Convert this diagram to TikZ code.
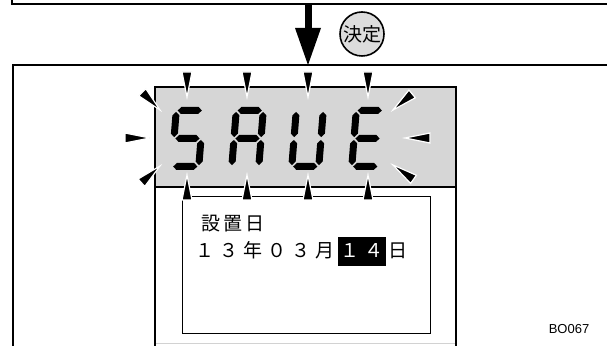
\documentclass[tikz,border=0pt]{standalone}
\usepackage{fontspec}
\newfontfamily\jpfont{Noto Sans CJK JP}
\newfontfamily\codefont{Liberation Sans}
\usetikzlibrary{arrows.meta}

\definecolor{lcdgray}{HTML}{D6D6D6}
\definecolor{keygray}{HTML}{DCDCDC}

% seven segment pieces (local units, t = 7)
\newcommand{\hseg}[3]{\fill (#1+1.4,#3) -- (#1+4.9,#3+3.5) -- (#2-4.9,#3+3.5) -- (#2-1.4,#3) -- (#2-4.9,#3-3.5) -- (#1+4.9,#3-3.5) -- cycle;}
\newcommand{\vseg}[3]{\fill (#1,#2+1.4) -- (#1+3.5,#2+4.9) -- (#1+3.5,#3-4.9) -- (#1,#3-1.4) -- (#1-3.5,#3-4.9) -- (#1-3.5,#2+4.9) -- cycle;}
\newcommand{\sega}{\hseg{3.5}{30.5}{59.5}}
\newcommand{\segb}{\vseg{30.5}{31.5}{59.5}}
\newcommand{\segc}{\vseg{30.5}{3.5}{31.5}}
\newcommand{\segd}{\hseg{3.5}{30.5}{3.5}}
\newcommand{\sege}{\vseg{3.5}{3.5}{31.5}}
\newcommand{\segf}{\vseg{3.5}{31.5}{59.5}}
\newcommand{\segg}{\hseg{3.5}{30.5}{31.5}}
\newcommand{\datecell}[2][24pt]{\makebox[#1]{#2}}

\tikzset{
  frame/.style={line width=1.6pt},
  jp/.style={font=\jpfont\fontsize{19}{19}\selectfont, inner sep=0pt, text height=15pt, text depth=3pt},
  flash/.pic={\filldraw[fill=black, draw=white, line width=1.2pt] (0,0) -- (-25,-5) -- (-25,5) -- cycle;}
}

\begin{document}
\begin{tikzpicture}[x=1pt, y=1pt]
    \useasboundingbox (0,0) rectangle (607,345);
    \clip (0,0) rectangle (607,345);

    % previous screen and next screen
    \draw[frame] (12,350) |- (612,341);
    \draw[frame] (13,-5) |- (612,280);

    \coordinate (prev) at (308,341);
    \coordinate (next) at (308,280);
    \draw[line width=7pt, -{Triangle[length=37pt, width=26pt, line width=0pt]}] (prev) -- (next);
    \node[draw, circle, fill=keygray, line width=1.6pt, minimum size=44pt, inner sep=0pt,
          font=\jpfont\fontsize{19}{19}\selectfont] (enterkey) at (362,311) {決定};

    % display
    \fill[lcdgray] (155,158) rectangle (456,258);
    \draw[frame] (155,-5) |- (456,258) -- (456,-5);
    \draw[frame] (155,158) -- (456,158);
    \draw[gray!35, line width=1pt] (156,1.5) -- (455,1.5);
    \draw[line width=0.9pt] (182,12) rectangle (430,149);

    % SAVE
    \begin{scope}[shift={(168,175)}, xslant=0.08]
        \sega \segf \segg \segc \segd
    \end{scope}
    \begin{scope}[shift={(228,175)}, xslant=0.08]
        \sega \segb \segc \sege \segf \segg
    \end{scope}
    \begin{scope}[shift={(288,175)}, xslant=0.08]
        \segb \segc \segd \sege \segf
    \end{scope}
    \begin{scope}[shift={(348,175)}, xslant=0.08]
        \sega \segd \sege \segf \segg
    \end{scope}

    % blinking marks
    \foreach \x in {187,247,308,368} {
        \pic[rotate=-90] at (\x,248) {flash};
        \pic[rotate=90] at (\x,170) {flash};
    }
    \pic[rotate=0] at (150,207) {flash};
    \pic[rotate=180] at (405,207) {flash};
    \pic[rotate=-45] at (160,235) {flash};
    \pic[rotate=-140] at (393,235) {flash};
    \pic[rotate=42] at (160,179) {flash};
    \pic[rotate=145] at (393,180) {flash};

    % setting date
    \node[jp, anchor=west] (title) at (200,120) {\datecell[22pt]{設}\datecell[22pt]{置}\datecell[22pt]{日}};
    \node[jp, anchor=west] (setdate) at (193,93) {\datecell{１}\datecell{３}\datecell{年}\datecell{０}\datecell{３}\datecell{月}};
    \node[jp, anchor=west, fill=black, text=white, minimum height=29pt] (setday) at (setdate.east) {\datecell{１}\datecell{４}};
    \node[jp, anchor=west] (dayunit) at (setday.east) {\datecell{日}};

    \node[font=\codefont\fontsize{13}{13}\selectfont] (figid) at (569,16) {BO067};
\end{tikzpicture}
\end{document}
